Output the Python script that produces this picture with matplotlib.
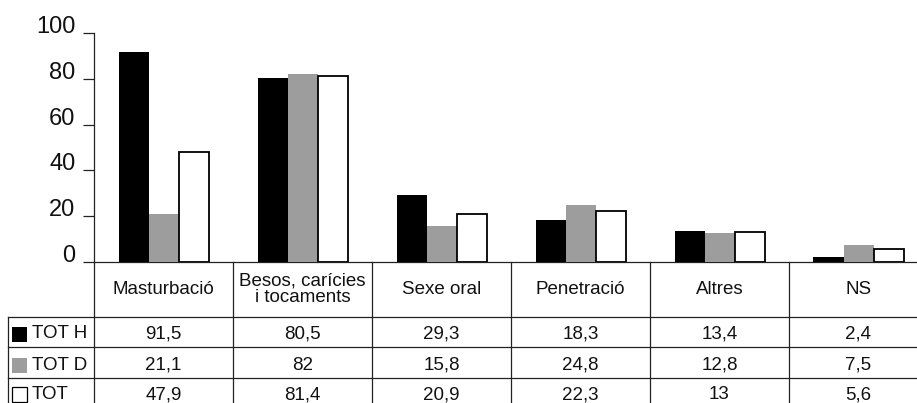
import matplotlib
matplotlib.use("Agg")
import matplotlib.pyplot as plt
from matplotlib.patches import Rectangle
import numpy as np

plt.rcParams['font.family'] = ['Liberation Sans', 'DejaVu Sans']

categories = ["Masturbació", "Besos, carícies\ni tocaments", "Sexe oral", "Penetració", "Altres", "NS"]
series_names = ["TOT H", "TOT D", "TOT"]
tot_h = [91.5, 80.5, 29.3, 18.3, 13.4, 2.4]
tot_d = [21.1, 82, 15.8, 24.8, 12.8, 7.5]
tot = [47.9, 81.4, 20.9, 22.3, 13, 5.6]
table_labels = [["91,5", "80,5", "29,3", "18,3", "13,4", "2,4"],
                ["21,1", "82", "15,8", "24,8", "12,8", "7,5"],
                ["47,9", "81,4", "20,9", "22,3", "13", "5,6"]]
yticks = [0, 20, 40, 60, 80, 100]

colors = ["#000000", "#9d9d9d", "#ffffff"]
series = [tot_h, tot_d, tot]

W, H = 917, 403
fig = plt.figure(figsize=(W / 100, H / 100), dpi=100)

# layout in pixels
x0 = 94          # y-axis position
colw = 139       # category column width
y_zero = 262
y_top = 33
leg_left = 8
row_lines = [317, 346.5, 377.5]
row_text = [334, 365.5, 394.5]
line_col = "#222222"
txt_col = "#111111"
fs = 13.5

ax = fig.add_axes([x0 / W, (H - y_zero) / H, (colw * 6) / W, (y_zero - y_top) / H])
x = np.arange(len(categories))
bw = 30 / colw
for i, (vals, c) in enumerate(zip(series, colors)):
    ec = "#000000" if c == "#ffffff" else c
    lw = 1.3 if c == "#ffffff" else 0
    ax.bar(x + (i - 1) * bw, vals, width=bw, color=c, edgecolor=ec, linewidth=lw, zorder=3)
ax.set_xlim(-0.5, 5.5)
ax.set_ylim(0, 100)
ax.set_yticks(yticks)
ax.set_yticklabels([str(t) for t in yticks], fontsize=17, color=txt_col)
for lbl in ax.get_yticklabels():
    lbl.set_verticalalignment("baseline")
ax.tick_params(axis="y", length=8, width=0.9, color=line_col, pad=5.5)
ax.set_xticks([])
for s in ["top", "right"]:
    ax.spines[s].set_visible(False)
for s in ["left", "bottom"]:
    ax.spines[s].set_color(line_col)
    ax.spines[s].set_linewidth(0.9)
ax.patch.set_alpha(0)

# table overlay
tx = fig.add_axes([0, 0, 1, 1])
tx.set_xlim(0, W)
tx.set_ylim(H, 0)
tx.axis("off")
tx.patch.set_alpha(0)

lw = 0.9
for i in range(7):
    xx = x0 + colw * i
    tx.plot([xx, xx], [y_zero, H], color=line_col, lw=lw)
tx.plot([leg_left, leg_left], [row_lines[0], H], color=line_col, lw=lw)
for yy in row_lines:
    tx.plot([leg_left, W], [yy, yy], color=line_col, lw=lw)

# header
for i, cat in enumerate(categories):
    tx.text(x0 + colw * (i + 0.5), 289, cat, ha="center", va="center",
            fontsize=fs, color=txt_col, linespacing=1.0)

# rows
for r, name in enumerate(series_names):
    yc = row_text[r]
    tx.add_patch(Rectangle((12, yc - 7.5), 15, 15, facecolor=colors[r],
                           edgecolor="#000000", linewidth=0.9 if colors[r] == "#ffffff" else 0))
    tx.text(32, yc, name, ha="left", va="center", fontsize=fs, color=txt_col)
    for i in range(len(categories)):
        tx.text(x0 + colw * (i + 0.5), yc, table_labels[r][i], ha="center", va="center",
                fontsize=fs, color=txt_col)

fig.savefig("out.png", dpi=100)
